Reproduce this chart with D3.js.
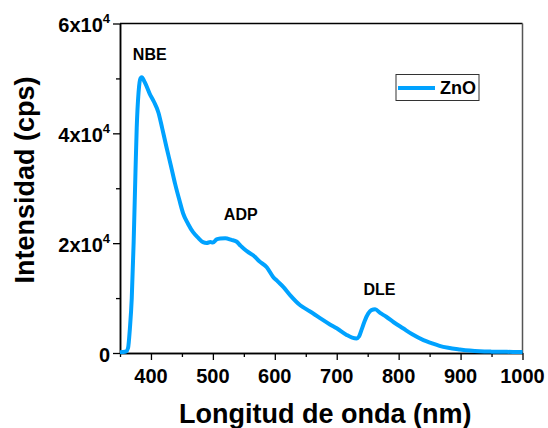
<!DOCTYPE html>
<html>
<head>
<meta charset="utf-8">
<script src="https://cdn.jsdelivr.net/npm/d3@7"></script>
<style>
html,body{margin:0;padding:0;background:#fff;}
svg{display:block;font-family:"Liberation Sans",Arial,sans-serif;font-weight:bold;}
</style>
</head>
<body>
<svg id="c" width="548" height="428"></svg>
<script>
// Data (wavelength nm, intensity cps)
const wavelength = [350,355,360,363,366,369,372,375,377,380,383,385,390,398,405,412,418,425,432,439,446,452,460,468,476,484,490,496,500,506,512,520,530,538,545,550,558,565,575,587,597,605,614,625,641,652,662,675,689,700,716,725,732,736,740,745,751,756,762,770,780,792,807,822,840,853,866,880,899,915,931,950,970,985,1000];
const intensity = [150,180,300,900,4500,10000,20000,33000,41000,47500,50000,50200,49300,47200,45700,43800,41000,37500,34200,30800,27800,25400,23500,22000,21000,20200,20050,20200,20100,20700,20850,20900,20600,20300,19500,19000,18300,17800,16700,15600,13900,13000,12000,10500,8700,7900,7200,6200,5200,4500,3300,2800,2650,3000,4200,5800,7200,7800,7950,7300,6600,5600,4500,3400,2350,1800,1300,950,650,450,320,250,220,200,200];
const xTicks = [400,500,600,700,800,900,1000];
const xMinor = [350,450,550,650,750,850,950];
const yTicks = [0,20000,40000,60000];
const yMinor = [10000,30000,50000];
const yTickLabels = [["0",""],["2x10","4"],["4x10","4"],["6x10","4"]];
const peakLabels = [{t:"NBE",x:398,y:53400},{t:"ADP",x:545,y:24200},{t:"DLE",x:769,y:10550}];
const seriesName = "ZnO";
const color = "#00A2FF";

const svg = d3.select("#c");
const L=120, R=522.5, T=23.5, B=353;
const x = d3.scaleLinear().domain([350,1000]).range([L,R]);
const y = d3.scaleLinear().domain([0,60000]).range([B,T]);

// frame
svg.append("line").attr("x1",L).attr("x2",R).attr("y1",T).attr("y2",T).attr("stroke","#000").attr("stroke-width",1.5);
svg.append("line").attr("x1",R).attr("x2",R).attr("y1",T).attr("y2",B).attr("stroke","#555").attr("stroke-width",1.5);

// x axis
const gx = svg.append("g").attr("transform",`translate(0,${B})`);
gx.call(d3.axisBottom(x).tickValues(xTicks).tickSize(7).tickSizeOuter(0).tickFormat(""));
gx.append("g").call(d3.axisBottom(x).tickValues(xMinor).tickSize(4).tickSizeOuter(0).tickFormat(""));
gx.selectAll(".domain").attr("stroke","#000").attr("stroke-width",1.5);
gx.selectAll(".tick line").attr("stroke","#000").attr("stroke-width",1.3);
gx.selectAll("text.lab").data(xTicks).enter().append("text")
  .attr("x",d=>x(d)).attr("y",30).attr("text-anchor","middle")
  .attr("font-size",20).attr("fill","#000").text(d=>d);

// y axis
const gy = svg.append("g").attr("transform",`translate(${L},0)`);
gy.call(d3.axisLeft(y).tickValues(yTicks).tickSize(7).tickSizeOuter(0).tickFormat(""));
gy.append("g").call(d3.axisLeft(y).tickValues(yMinor).tickSize(4).tickSizeOuter(0).tickFormat(""));
gy.selectAll(".domain").attr("stroke","#000").attr("stroke-width",1.5);
gy.selectAll(".tick line").attr("stroke","#000").attr("stroke-width",1.3);
yTicks.forEach((v,i)=>{
  const [base,sup] = yTickLabels[i];
  const t = svg.append("text").attr("x",110).attr("y",y(v)+8.5).attr("text-anchor","end")
    .attr("font-size",20).attr("fill","#000");
  t.append("tspan").text(base);
  if(sup) t.append("tspan").attr("font-size",13).attr("dy",-9).text(sup);
});

// axis titles
svg.append("text").attr("x",(L+R)/2+4).attr("y",423).attr("text-anchor","middle")
  .attr("font-size",27).attr("fill","#000").text("Longitud de onda (nm)");
svg.append("text").attr("transform","translate(34,180) rotate(-90)").attr("text-anchor","middle")
  .attr("font-size",27).attr("fill","#000").text("Intensidad (cps)");

// line
const pts = wavelength.map((w,i)=>[w,intensity[i]]);
const line = d3.line().x(d=>x(d[0])).y(d=>y(d[1])).curve(d3.curveMonotoneX);
svg.append("path").datum(pts).attr("d",line).attr("fill","none")
  .attr("stroke",color).attr("stroke-width",4).attr("stroke-linejoin","round");

// peak labels
peakLabels.forEach(p=>{
  svg.append("text").attr("x",x(p.x)).attr("y",y(p.y)).attr("text-anchor","middle")
    .attr("font-size",16).attr("fill","#000").text(p.t);
});

// legend
svg.append("rect").attr("x",396).attr("y",74.5).attr("width",83).attr("height",26)
  .attr("fill","#fff").attr("stroke","#333").attr("stroke-width",1);
svg.append("line").attr("x1",398).attr("x2",435).attr("y1",88).attr("y2",88)
  .attr("stroke",color).attr("stroke-width",4);
svg.append("text").attr("x",440).attr("y",93.5).attr("font-size",18).attr("fill","#000").text(seriesName);
</script>
</body>
</html>
